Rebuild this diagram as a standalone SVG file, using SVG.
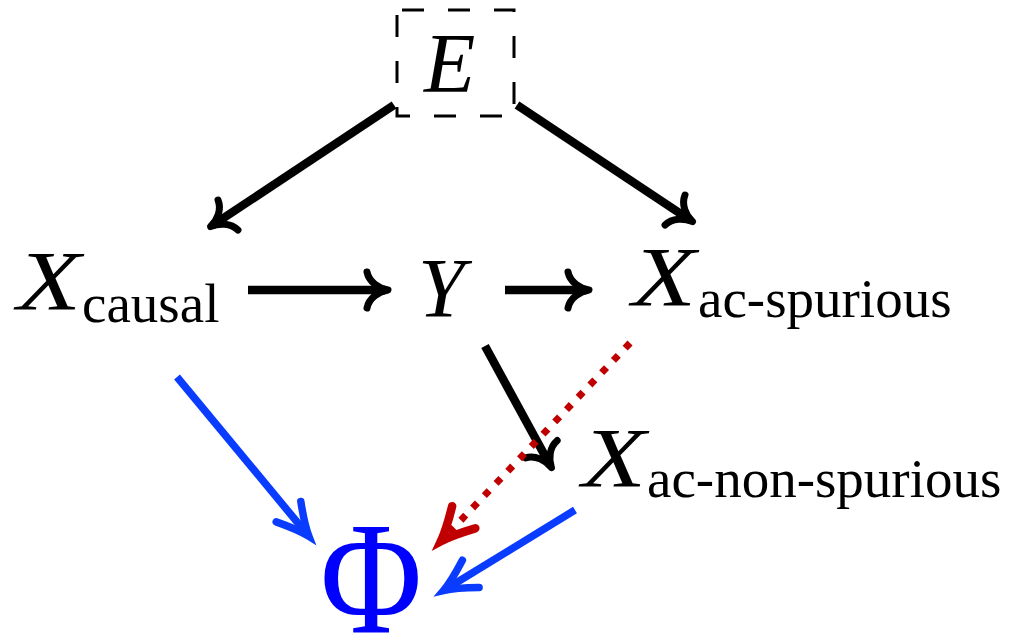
<svg xmlns="http://www.w3.org/2000/svg" width="1024" height="638" viewBox="0 0 1024 638">
  <style>
    .mi { font-family: "Liberation Serif", "Times New Roman", serif; font-style: italic; font-size: 84px; fill: #000; }
    .sub { font-family: "Liberation Serif", "Times New Roman", serif; font-size: 55px; fill: #000; }
    .phi { font-family: "Liberation Serif", "Times New Roman", serif; font-size: 160px; fill: #0000FF; }
    .blk { stroke: #000; stroke-width: 8.5; fill: none; }
    .blu { stroke: #0A3CFF; stroke-width: 7.5; fill: none; }
    .red { stroke: #C00000; stroke-width: 7; fill: none; stroke-dasharray: 7 10; }
  </style>
  <defs>
    <marker id="ahK" markerUnits="userSpaceOnUse" markerWidth="50" markerHeight="50" viewBox="-40 -25 50 50" refX="-3" refY="0" orient="auto" overflow="visible">
      <path d="M -21,-18 C -19,-8 -9,-1.5 0,0 C -9,1.5 -19,8 -21,18" fill="none" stroke="#000" stroke-width="7" stroke-linecap="round" stroke-linejoin="round"/>
    </marker>
    <marker id="ahB" markerUnits="userSpaceOnUse" markerWidth="50" markerHeight="50" viewBox="-40 -25 50 50" refX="-3" refY="0" orient="auto" overflow="visible">
      <path d="M -32,-16 Q -12,-4 0,0 Q -12,4 -32,16" fill="none" stroke="#0A3CFF" stroke-width="7.5" stroke-linecap="round" stroke-linejoin="miter" stroke-miterlimit="10"/>
    </marker>
    <marker id="ahR" markerUnits="userSpaceOnUse" markerWidth="50" markerHeight="50" viewBox="-40 -25 50 50" refX="-3" refY="0" orient="auto" overflow="visible">
      <path d="M -33,-16 Q -12,-4 0,0 Q -12,4 -33,16" fill="none" stroke="#C00000" stroke-width="8.5" stroke-linecap="round" stroke-linejoin="miter" stroke-miterlimit="10"/>
    </marker>
  </defs>

  <g id="node-E">
    <rect x="397" y="10" width="117" height="106" fill="none" stroke="#000" stroke-width="3" stroke-dasharray="22 24" stroke-dashoffset="-5"/>
    <text x="424" y="92" class="mi">E</text>
  </g>
  <g id="node-Xcausal">
    <text x="17" y="310" class="mi" textLength="64" lengthAdjust="spacingAndGlyphs">X</text>
    <text x="82" y="322" class="sub">causal</text>
  </g>
  <g id="node-Y">
    <text x="418" y="317" class="mi">Y</text>
  </g>
  <g id="node-Xacsp">
    <text x="632" y="306" class="mi" textLength="64" lengthAdjust="spacingAndGlyphs">X</text>
    <text x="698" y="317" class="sub">ac-spurious</text>
  </g>
  <g id="node-Xacnsp">
    <text x="582" y="487" class="mi" textLength="64" lengthAdjust="spacingAndGlyphs">X</text>
    <text x="647" y="497" class="sub">ac-non-spurious</text>
  </g>
  <g id="node-Phi">
    <text class="phi" text-anchor="middle" transform="translate(371,632) scale(0.87,1)">Φ</text>
  </g>

  <g id="connectors">
    <line x1="394" y1="105" x2="213" y2="225" class="blk" marker-end="url(#ahK)"/>
    <line x1="517" y1="105" x2="690" y2="220" class="blk" marker-end="url(#ahK)"/>
    <line x1="248" y1="290" x2="385" y2="290" class="blk" marker-end="url(#ahK)"/>
    <line x1="505" y1="290" x2="586" y2="290" class="blk" marker-end="url(#ahK)"/>
    <line x1="485" y1="346" x2="550" y2="465" class="blk" marker-end="url(#ahK)"/>
    <line x1="630" y1="343" x2="443" y2="539" class="red" marker-end="url(#ahR)"/>
    <line x1="177" y1="377" x2="307" y2="534" class="blu" marker-end="url(#ahB)"/>
    <line x1="575" y1="510" x2="446" y2="589" class="blu" marker-end="url(#ahB)"/>
  </g>
</svg>
